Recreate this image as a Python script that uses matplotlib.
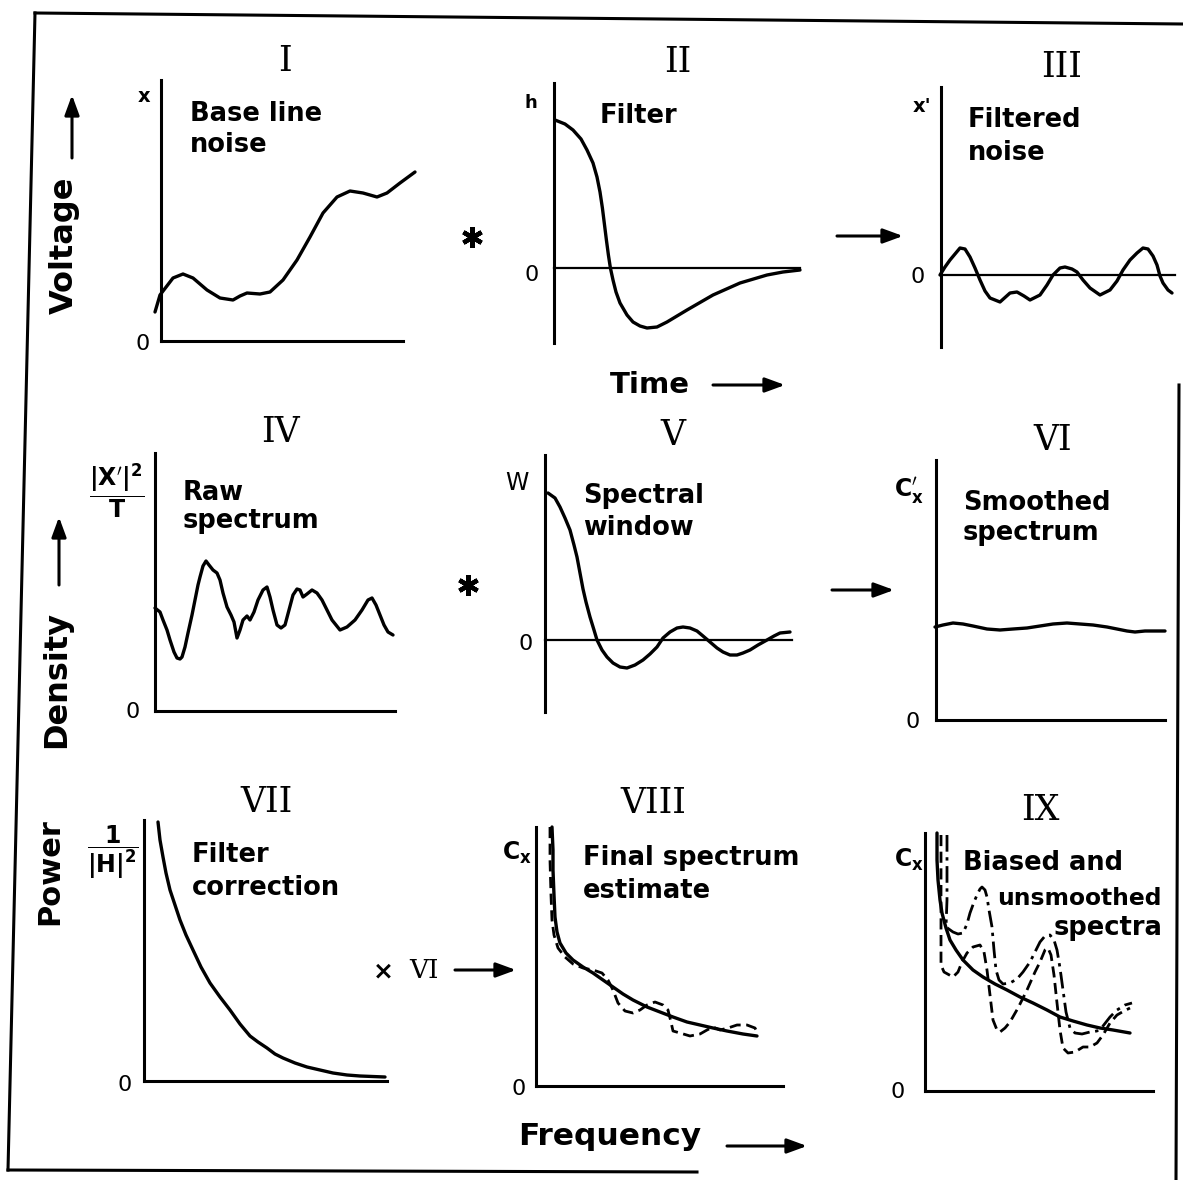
"""
Nine-panel sketch of the spectrum estimation chain:
filtering the base line noise, forming and smoothing the raw spectrum,
then correcting for the filter.
"""

import matplotlib
matplotlib.use("Agg")
import matplotlib.pyplot as plt

plt.rcParams["font.family"] = ["DejaVu Sans"]
plt.rcParams["mathtext.fontset"] = "dejavusans"
plt.rcParams["mathtext.default"] = "bf"

W, H = 1183, 1180      # canvas, pixels
U = 20                 # one curve unit in pixels

# --- I: base line noise ------------------------------------------------------
base_t = [-0.3, -0.05, 0.6, 1.1, 1.6, 2.3, 2.95, 3.6, 3.95, 4.3, 4.95, 5.45,
          6.1, 6.8, 7.45, 8.1, 8.8, 9.45, 10.1, 10.8, 11.3, 11.95, 12.7]
base_x = [1.45, 2.3, 3.15, 3.35, 3.15, 2.55, 2.15, 2.05, 2.25, 2.4, 2.35, 2.45,
          3.05, 4.05, 5.2, 6.4, 7.2, 7.5, 7.4, 7.2, 7.4, 7.9, 8.45]

# --- II: filter impulse response ------------------------------------------
filt_t = [0.05, 0.55, 0.95, 1.35, 1.65, 1.95, 2.15, 2.3, 2.42, 2.52, 2.62,
          2.72, 2.82, 2.95, 3.1, 3.3, 3.65, 3.95, 4.3, 4.65, 5.15, 5.65, 6.65,
          7.95, 9.3, 10.65, 11.45, 12.3]
filt_h = [7.4, 7.2, 6.9, 6.45, 5.9, 5.25, 4.55, 3.8, 3.0, 2.2, 1.4, 0.65, 0.0,
          -0.6, -1.2, -1.75, -2.35, -2.7, -2.9, -3.0, -2.95, -2.7, -2.1, -1.35,
          -0.75, -0.35, -0.2, -0.1]

# --- III: filtered noise ---------------------------------------------------
fnoise_t = [-0.05, 0.2, 0.45, 0.95, 1.2, 1.45, 1.7, 1.95, 2.2, 2.45, 2.95, 3.45,
            3.8, 4.15, 4.45, 4.95, 5.3, 5.6, 5.95, 6.2, 6.55, 6.8, 7.1, 7.45,
            7.95, 8.45, 8.8, 9.1, 9.45, 9.8, 10.1, 10.35, 10.6, 10.8, 10.95,
            11.1, 11.35, 11.55]
fnoise_x = [0.0, 0.4, 0.75, 1.35, 1.3, 0.9, 0.35, -0.25, -0.8, -1.15, -1.35,
            -0.9, -0.85, -1.05, -1.25, -1.0, -0.5, 0.0, 0.35, 0.4, 0.3, 0.15,
            -0.25, -0.65, -1.0, -0.75, -0.3, 0.25, 0.75, 1.1, 1.35, 1.3, 0.95,
            0.5, -0.05, -0.4, -0.75, -0.9]

# --- IV: raw spectrum --------------------------------------------------------
raw_f = [0.0, 0.25, 0.4, 0.6, 0.75, 0.95, 1.1, 1.25, 1.35, 1.5, 1.65, 1.85,
         2.0, 2.15, 2.25, 2.4, 2.55, 2.7, 2.9, 3.1, 3.25, 3.4, 3.6, 3.8, 3.95,
         4.1, 4.25, 4.4, 4.6, 4.75, 4.95, 5.15, 5.4, 5.6, 5.75, 5.9, 6.1, 6.3,
         6.5, 6.7, 6.9, 7.1, 7.25, 7.4, 7.6, 7.85, 8.1, 8.35, 8.6, 8.85, 9.25,
         9.6, 10.0, 10.35, 10.65, 10.85, 11.05, 11.25, 11.45, 11.65, 11.9]
raw_p = [5.15, 4.95, 4.55, 4.05, 3.55, 2.95, 2.65, 2.6, 2.7, 3.2, 3.9, 4.8,
         5.55, 6.3, 6.7, 7.25, 7.5, 7.3, 7.05, 6.9, 6.55, 5.9, 5.2, 4.8, 4.45,
         3.65, 4.05, 4.55, 4.75, 4.55, 4.95, 5.55, 6.05, 6.2, 5.7, 5.05, 4.3,
         4.15, 4.3, 5.05, 5.8, 6.1, 6.05, 5.7, 5.85, 6.05, 5.9, 5.55, 5.05,
         4.55, 4.05, 4.2, 4.55, 5.05, 5.55, 5.65, 5.3, 4.8, 4.3, 3.95, 3.8]

# --- V: spectral window ----------------------------------------------------
win_f = [0.15, 0.5, 0.75, 1.0, 1.25, 1.45, 1.6, 1.75, 1.9, 2.05, 2.25, 2.45,
         2.6, 2.85, 3.1, 3.4, 3.75, 4.1, 4.5, 4.9, 5.25, 5.6, 5.9, 6.25, 6.6,
         6.9, 7.25, 7.6, 7.9, 8.25, 8.6, 8.9, 9.25, 9.6, 9.9, 10.25, 10.65,
         11.1, 11.45, 11.75, 12.25]
win_w = [7.35, 7.1, 6.65, 6.1, 5.5, 4.75, 4.15, 3.35, 2.55, 1.9, 1.15, 0.5,
         0.0, -0.5, -0.85, -1.15, -1.35, -1.4, -1.25, -1.0, -0.7, -0.35, 0.1,
         0.4, 0.6, 0.65, 0.6, 0.45, 0.2, -0.1, -0.4, -0.6, -0.75, -0.75, -0.65,
         -0.5, -0.25, 0.0, 0.2, 0.35, 0.4]

# --- VI: smoothed spectrum -------------------------------------------------
smooth_f = [-0.05, 0.35, 0.85, 1.35, 1.85, 2.55, 3.2, 3.85, 4.55, 5.2, 5.85,
            6.55, 7.2, 7.85, 8.55, 9.05, 9.55, 9.95, 10.45, 11.45]
smooth_c = [4.65, 4.75, 4.85, 4.8, 4.7, 4.55, 4.5, 4.55, 4.6, 4.7, 4.8, 4.85,
            4.8, 4.75, 4.65, 4.55, 4.45, 4.4, 4.45, 4.45]

# --- VII: filter correction 1/|H|^2 ----------------------------------------
corr_f = [0.7, 0.8, 0.95, 1.1, 1.3, 1.55, 1.8, 2.1, 2.45, 2.85, 3.3, 3.8, 4.3,
          4.8, 5.3, 5.7, 6.15, 6.55, 6.95, 7.55, 8.15, 8.8, 9.45, 10.15, 10.8,
          12.05]
corr_g = [12.95, 12.05, 11.2, 10.4, 9.55, 8.8, 8.05, 7.3, 6.55, 5.7, 4.9, 4.2,
          3.55, 2.85, 2.25, 1.95, 1.65, 1.35, 1.15, 0.9, 0.7, 0.55, 0.4, 0.3,
          0.25, 0.2]

# --- VIII: final estimate (solid) and uncorrected trace (dashed) -----------
final_f = [0.8, 0.85, 0.85, 0.9, 0.95, 1.05, 1.2, 1.5, 1.85, 2.35, 2.85, 3.35,
           3.85, 4.35, 4.85, 5.55, 6.2, 6.85, 7.55, 8.2, 8.85, 9.55, 10.35,
           11.05]
final_c = [12.95, 11.8, 10.8, 9.55, 8.45, 7.7, 7.15, 6.65, 6.3, 5.95, 5.65, 5.3,
           4.95, 4.6, 4.3, 3.95, 3.7, 3.45, 3.2, 3.05, 2.9, 2.75, 2.6, 2.5]
rough_f = [0.7, 0.7, 0.75, 0.8, 0.9, 1.1, 1.45, 1.85, 2.35, 2.85, 3.3, 3.6,
           3.85, 4.1, 4.45, 4.85, 5.2, 5.55, 5.95, 6.35, 6.6, 6.75, 6.85, 7.2,
           7.7, 8.2, 8.55, 8.85, 9.2, 9.6, 10.05, 10.55, 10.95, 11.05]
rough_c = [12.95, 11.3, 9.55, 8.3, 7.55, 6.9, 6.45, 6.1, 5.9, 5.8, 5.65, 5.3,
           4.8, 4.15, 3.75, 3.65, 3.8, 4.05, 4.2, 4.05, 3.8, 3.2, 2.75, 2.65,
           2.5, 2.6, 2.8, 2.95, 2.8, 2.9, 3.05, 3.05, 2.9, 2.7]

# --- IX: true spectrum, biased (dashed) and unsmoothed (dash-dot) ----------
true_f = [0.6, 0.6, 0.65, 0.75, 0.85, 1.05, 1.25, 1.55, 1.9, 2.4, 2.9, 3.5,
          4.1, 4.75, 5.4, 6.1, 6.75, 7.4, 8.1, 8.75, 9.4, 10.25]
true_c = [12.9, 11.55, 10.55, 9.55, 8.9, 8.15, 7.55, 7.05, 6.55, 6.05, 5.7,
          5.35, 5.05, 4.7, 4.4, 4.05, 3.7, 3.5, 3.3, 3.15, 3.05, 2.9]
biased_f = [0.8, 0.8, 0.8, 0.8, 0.8, 0.95, 1.4, 1.65, 1.85, 2.1, 2.4, 2.75,
            2.95, 3.1, 3.25, 3.4, 3.6, 3.75, 4.0, 4.25, 4.65, 5.1, 5.5, 5.75,
            6.0, 6.15, 6.3, 6.45, 6.6, 6.75, 6.9, 7.15, 7.5, 7.9, 8.25, 8.6,
            8.9, 9.25, 9.6, 9.95, 10.25]
biased_c = [12.8, 11.05, 9.05, 7.55, 6.3, 5.95, 5.7, 5.95, 6.45, 6.9, 7.2, 7.3,
            6.95, 6.05, 4.8, 3.55, 3.05, 2.95, 3.15, 3.45, 4.15, 5.05, 5.95,
            6.45, 7.05, 7.15, 6.8, 5.8, 4.4, 3.05, 2.15, 1.9, 1.95, 2.2, 2.2,
            2.4, 2.8, 3.4, 3.8, 4.0, 4.15]
unsm_f = [1.1, 1.1, 1.1, 1.05, 1.4, 1.65, 1.9, 2.1, 2.25, 2.45, 2.6, 2.75,
          2.85, 3.0, 3.1, 3.2, 3.35, 3.45, 3.55, 3.7, 3.9, 4.25, 4.6, 4.9,
          5.25, 5.55, 5.75, 6.0, 6.25, 6.45, 6.6, 6.75, 6.9, 7.05, 7.25, 7.5,
          7.85, 8.25, 8.6, 8.9, 9.25, 9.6, 10.0, 10.35]
unsm_c = [12.8, 11.05, 9.55, 8.2, 7.95, 7.85, 7.9, 8.35, 8.9, 9.45, 9.8, 10.1,
          10.2, 10.05, 9.7, 9.05, 8.2, 7.05, 6.05, 5.55, 5.35, 5.4, 5.6, 5.95,
          6.45, 7.05, 7.45, 7.75, 7.8, 7.55, 7.05, 6.15, 5.05, 3.95, 3.15, 2.9,
          2.85, 2.95, 3.0, 3.25, 3.7, 4.05, 4.3, 4.4]

TITLE = dict(family="DejaVu Serif", fontsize=25, ha="center", va="baseline")
BODY = dict(fontsize=18.5, fontweight="bold", va="baseline")
ZERO = dict(fontsize=16, ha="center", va="baseline")
ARROW = dict(arrowstyle="-|>,head_length=0.6,head_width=0.22", lw=2.2,
             color="k", shrinkA=0, shrinkB=0, mutation_scale=20)


def panel(fig, origin, ytop, ybot, xend):
    """Axes with 1 unit = U px, origin at the given pixel point."""
    ox, oy = origin
    x0, x1 = -1.0, xend + 1.2
    y0, y1 = ybot - 0.6, ytop + 0.6
    rect = [(ox + x0 * U) / W, 1 - (oy - y0 * U) / H,
            (x1 - x0) * U / W, (y1 - y0) * U / H]
    ax = fig.add_axes(rect)
    ax.set_xlim(x0, x1)
    ax.set_ylim(y0, y1)
    ax.patch.set_visible(False)
    ax.set_xticks([])
    ax.set_yticks([])
    for s in ("top", "right"):
        ax.spines[s].set_visible(False)
    ax.spines["left"].set_position(("data", 0))
    ax.spines["left"].set_bounds(ybot, ytop)
    ax.spines["left"].set_linewidth(2.2)
    ax.spines["bottom"].set_position(("data", 0))
    ax.spines["bottom"].set_bounds(0, xend)
    ax.spines["bottom"].set_linewidth(2.2 if ybot == 0 else 1.6)
    return ax


def curve(ax, x, y, ls="-", lw=2.4):
    ax.plot(x, y, color="k", lw=lw, ls=ls, clip_on=False,
            solid_capstyle="round", solid_joinstyle="round",
            dash_capstyle="butt")


def main():
    fig = plt.figure(figsize=(W / 100, H / 100), dpi=100)
    ov = fig.add_axes([0, 0, 1, 1])
    ov.set_xlim(0, W)
    ov.set_ylim(H, 0)
    ov.axis("off")

    # scanned page frame
    for (xa, ya), (xb, yb) in [((35, 13), (8, 1170)), ((35, 13), (1183, 24)),
                               ((8, 1170), (697, 1172)),
                               ((1179, 385), (1176, 1180))]:
        ov.plot([xa, xb], [ya, yb], color="k", lw=2.2,
                solid_capstyle="projecting")

    # --- row 1 -------------------------------------------------------------
    ax = panel(fig, (161, 341), 13.05, 0, 12.1)
    curve(ax, base_t, base_x)
    ax = panel(fig, (554, 268), 9.25, -3.75, 12.3)
    curve(ax, filt_t, filt_h)
    ax = panel(fig, (941, 275), 9.4, -3.6, 11.7)
    curve(ax, fnoise_t, fnoise_x)

    # --- row 2 -------------------------------------------------------------
    ax = panel(fig, (155, 711), 12.9, 0, 12.0)
    curve(ax, raw_f, raw_p)
    ax = panel(fig, (545, 640), 9.25, -3.6, 12.35)
    curve(ax, win_f, win_w)
    ax = panel(fig, (936, 720), 13.0, 0, 11.45)
    curve(ax, smooth_f, smooth_c)

    # --- row 3 -------------------------------------------------------------
    ax = panel(fig, (144, 1081), 13.05, 0, 12.15)
    curve(ax, corr_f, corr_g)
    ax = panel(fig, (536, 1086), 12.95, 0, 12.35)
    curve(ax, final_f, final_c)
    curve(ax, rough_f, rough_c, ls=(0, (4, 2)), lw=2.0)
    ax = panel(fig, (925, 1091), 12.9, 0, 11.4)
    curve(ax, true_f, true_c)
    curve(ax, biased_f, biased_c, ls=(0, (4, 2)), lw=2.0)
    curve(ax, unsm_f, unsm_c, ls=(0, (6, 2, 1.2, 2)), lw=2.0)

    # panel numbers
    for txt, x, y in [("I", 285, 71), ("II", 678, 72), ("III", 1062, 77),
                      ("IV", 280, 442), ("V", 673, 445), ("VI", 1053, 450),
                      ("VII", 267, 812), ("VIII", 653, 813), ("IX", 1040, 820)]:
        ov.text(x, y, txt, **TITLE)

    # captions inside the panels
    for txt, x, y in [("Base line", 190, 121), ("noise", 190, 152),
                      ("Filter", 600, 123),
                      ("Filtered", 968, 127), ("noise", 968, 160),
                      ("Raw", 183, 500), ("spectrum", 183, 528),
                      ("Spectral", 583, 503), ("window", 583, 535),
                      ("Smoothed", 963, 510), ("spectrum", 963, 540),
                      ("Filter", 192, 862), ("correction", 192, 895),
                      ("Final spectrum", 583, 865), ("estimate", 583, 898),
                      ("Biased and", 963, 870)]:
        ov.text(x, y, txt, ha="left", **BODY)
    ov.text(1162, 905, "unsmoothed", ha="right",
            **dict(BODY, fontsize=16.8))
    ov.text(1163, 935, "spectra", ha="right", **BODY)

    # zero marks
    for x, y in [(143, 350), (532, 281), (918, 283), (133, 718), (526, 650),
                 (913, 728), (125, 1091), (519, 1095), (898, 1098)]:
        ov.text(x, y, "0", **ZERO)

    # ordinate symbols
    ov.text(144, 102, "x", fontsize=14, fontweight="bold", ha="center",
            va="baseline")
    ov.text(531, 108, "h", fontsize=13, fontweight="bold", ha="center",
            va="baseline")
    ov.text(922, 112, "x'", fontsize=14, fontweight="bold", ha="center",
            va="baseline")
    ov.text(517, 490, "W", fontsize=17, ha="center", va="baseline")
    ov.text(909, 497, r"$C^{\prime}_{x}$", fontsize=17, ha="center",
            va="baseline")
    ov.text(517, 860, r"$C_{x}$", fontsize=17, ha="center", va="baseline")
    ov.text(909, 867, r"$C_{x}$", fontsize=17, ha="center", va="baseline")
    ov.text(117, 491, r"$\dfrac{|X'|^{2}}{T}$", fontsize=17, ha="center",
            va="center")
    ov.text(113, 852, r"$\dfrac{1}{|H|^{2}}$", fontsize=17, ha="center",
            va="center")

    # operators between panels
    for x, y in [(472, 237), (468, 585)]:
        ov.plot(x, y, marker=(6, 2, 0), ms=15, mew=3.2, color="k")
    ov.text(373, 978, "×", fontsize=18, fontweight="bold", ha="left",
            va="baseline")
    ov.text(424, 978, "VI", family="DejaVu Serif", fontsize=19, ha="center",
            va="baseline")
    for (xa, ya), (xb, yb) in [((837, 236), (903, 236)),
                               ((832, 590), (894, 590)),
                               ((455, 970), (516, 970))]:
        ov.annotate("", xy=(xb, yb), xytext=(xa, ya), arrowprops=ARROW)

    # quantity labels with direction arrows
    ov.text(64, 245, "Voltage", rotation=90, fontsize=23, fontweight="bold",
            ha="center", va="center")
    ov.annotate("", xy=(72, 95), xytext=(72, 158), arrowprops=ARROW)
    ov.text(57, 680, "Density", rotation=90, fontsize=23, fontweight="bold",
            ha="center", va="center")
    ov.annotate("", xy=(59, 517), xytext=(59, 585), arrowprops=ARROW)
    ov.text(50, 872, "Power", rotation=90, fontsize=22, fontweight="bold",
            ha="center", va="center")
    ov.text(650, 393, "Time", fontsize=21, fontweight="bold", ha="center",
            va="baseline")
    ov.annotate("", xy=(785, 385), xytext=(713, 385), arrowprops=ARROW)
    ov.text(610, 1145, "Frequency", fontsize=22.5, fontweight="bold",
            ha="center", va="baseline")
    ov.annotate("", xy=(807, 1146), xytext=(727, 1146), arrowprops=ARROW)

    fig.savefig("out.png", dpi=100, facecolor="white")


if __name__ == "__main__":
    main()
